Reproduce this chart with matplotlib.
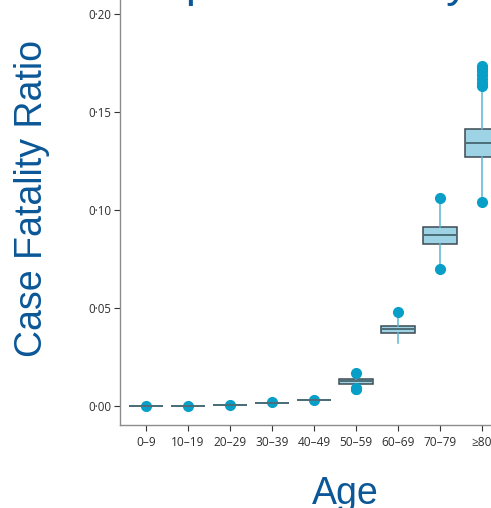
import numpy as np
import matplotlib
matplotlib.use("Agg")
import matplotlib.pyplot as plt

# Age groups and box-plot summaries of the case fatality ratio
age_groups = ["0–9", "10–19", "20–29", "30–39", "40–49", "50–59", "60–69", "70–79", "≥80"]
whislo = [0.00000, 0.00002, 0.00020, 0.00120, 0.00280, 0.01080, 0.03200, 0.07100, 0.10550]
q1     = [0.00001, 0.00004, 0.00025, 0.00140, 0.00300, 0.01140, 0.03740, 0.08270, 0.12720]
med    = [0.00002, 0.00006, 0.00031, 0.00150, 0.00310, 0.01250, 0.03930, 0.08710, 0.13400]
q3     = [0.00003, 0.00008, 0.00037, 0.00160, 0.00320, 0.01360, 0.04080, 0.09120, 0.14130]
whishi = [0.00005, 0.00010, 0.00045, 0.00180, 0.00340, 0.01440, 0.04700, 0.10500, 0.16250]
fliers = [
    [0.00004],
    [0.00008],
    [0.00070],
    [0.00180],
    [0.00290],
    [0.01670, 0.00850, 0.00880, 0.00910],
    [0.04810],
    [0.10630, 0.06970],
    [0.16350, 0.16500, 0.16700, 0.16900, 0.17100, 0.17250, 0.17350, 0.10420],
]

y_ticks = [0.00, 0.05, 0.10, 0.15, 0.20]
y_tick_labels = ["0·00", "0·05", "0·10", "0·15", "0·20"]

BLUE = "#0b5797"
TICK_FONT = "Open Sans"

fig = plt.figure(figsize=(4.91, 5.08), dpi=100)
W, H = 491.0, 508.0
ax = fig.add_axes([120 / W, 83 / H, 404 / W, 430.6 / H])

stats = []
for i, lab in enumerate(age_groups):
    stats.append(dict(label=lab, whislo=whislo[i], q1=q1[i], med=med[i], q3=q3[i],
                      whishi=whishi[i], fliers=np.array(fliers[i])))

ax.bxp(stats, positions=range(len(age_groups)), widths=0.8, patch_artist=True,
       showcaps=False,
       boxprops=dict(facecolor="#9dd3e4", edgecolor="#3b4a52", linewidth=1.1),
       medianprops=dict(color="#4c6e78", linewidth=1.4),
       whiskerprops=dict(color="#5ab7d1", linewidth=1.1),
       flierprops=dict(marker="o", markerfacecolor="#079fc7", markeredgecolor="#079fc7",
                       markersize=7))

ax.set_xlim(-0.62, 9.0)
ax.set_ylim(-0.0097, 0.21)

ax.set_yticks(y_ticks)
ax.set_yticklabels(y_tick_labels)
ax.set_xticks(range(len(age_groups)))
ax.set_xticklabels(age_groups)

for s in ("top", "right"):
    ax.spines[s].set_visible(False)
for s in ("left", "bottom"):
    ax.spines[s].set_color("#8c8c8c")
    ax.spines[s].set_linewidth(1.0)

ax.tick_params(axis="both", direction="out", length=4.3, width=0.8, color="#333333",
               labelcolor="#2e2e2e")
ax.tick_params(axis="y", pad=2)
ax.tick_params(axis="x", pad=3.5)
for lbl in ax.get_yticklabels():
    lbl.set_fontfamily(TICK_FONT)
    lbl.set_fontsize(8.3)
for lbl in ax.get_xticklabels():
    lbl.set_fontfamily(TICK_FONT)
    lbl.set_fontsize(8.6)

fig.text(32 / W, 1 - 198.5 / H, "Case Fatality Ratio", rotation=90, ha="center",
         va="center", color=BLUE, fontsize=27, family="Liberation Sans")
fig.text(345 / W, 4.5 / H, "Age", ha="center", va="baseline", color=BLUE,
         fontsize=27, family="Liberation Sans")
# Slide heading sits above the plot area; only its lowest strokes fall inside
fig.text(84 / W, 1 + 4 / H, "Group Fatalities by Province", ha="left", va="baseline",
         color=BLUE, fontsize=33, family="Liberation Sans")

fig.savefig("out.png", dpi=100)
